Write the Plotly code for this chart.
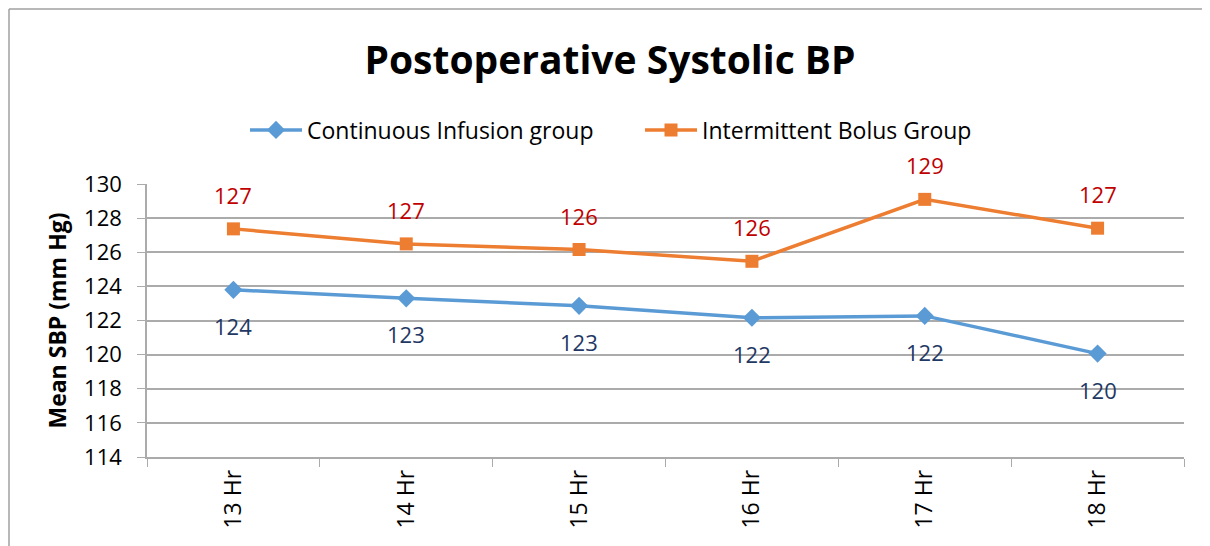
import plotly.graph_objects as go

categories = ["13 Hr", "14 Hr", "15 Hr", "16 Hr", "17 Hr", "18 Hr"]
continuous = [123.8, 123.3, 122.86, 122.16, 122.27, 120.06]
intermittent = [127.37, 126.49, 126.16, 125.47, 129.1, 127.41]
continuous_labels = ["124", "123", "123", "122", "122", "120"]
intermittent_labels = ["127", "127", "126", "126", "129", "127"]
y_ticks = [114, 116, 118, 120, 122, 124, 126, 128, 130]

FONT = "'Open Sans', Lato, sans-serif"
BLUE = "#5B9BD5"
ORANGE = "#ED7D31"
RED = "#C00000"
NAVY = "#1F3864"
GRID = "#ABABAB"

# page body has an 8px margin; compensate so plot area sits at x 147..1184, y 184..457
OFF = 8
fig = go.Figure()
fig.add_trace(go.Scatter(
    x=categories, y=continuous, name="Continuous Infusion group",
    mode="lines+markers",
    line=dict(color=BLUE, width=3.5),
    marker=dict(symbol="diamond", size=14, color=BLUE),
))
fig.add_trace(go.Scatter(
    x=categories, y=intermittent, name="Intermittent Bolus Group",
    mode="lines+markers",
    line=dict(color=ORANGE, width=3.5),
    marker=dict(symbol="square", size=13, color=ORANGE),
))

annotations = []
for c, v, t in zip(categories, intermittent, intermittent_labels):
    annotations.append(dict(x=c, y=v, text=t, showarrow=False, yshift=34,
                            font=dict(family=FONT, size=22, color=RED)))
for c, v, t in zip(categories, continuous, continuous_labels):
    annotations.append(dict(x=c, y=v, text=t, showarrow=False, yshift=-36,
                            font=dict(family=FONT, size=22, color=NAVY)))

PW, PH = 1037, 273
bx = (9 - 147) / PW
by = (457 - 9) / PH

fig.update_layout(
    width=1210, height=546,
    margin=dict(l=147 - OFF, r=1210 + OFF - 1184, t=184 - OFF, b=546 + OFF - 457, autoexpand=False),
    paper_bgcolor="white", plot_bgcolor="white",
    font=dict(family=FONT, size=21, color="black"),
    title=dict(text="<b>Postoperative Systolic BP</b>", x=(610 - OFF) / 1210, xanchor="center",
               y=1 - (60 - OFF) / 546, yanchor="middle",
               font=dict(family=FONT, size=39, color="black")),
    legend=dict(orientation="h", x=(245 - 147) / PW, xanchor="left", y=(457 - 130) / PH, yanchor="middle",
                font=dict(family=FONT, size=23, color="black"),
                itemwidth=52, entrywidth=328, entrywidthmode="pixels",
                bgcolor="rgba(0,0,0,0)"),
    showlegend=True,
    annotations=annotations,
    shapes=[
        dict(type="line", xref="paper", yref="paper", x0=bx, x1=(1230 - 147) / PW,
             y0=by, y1=by, line=dict(color="#A0A0A0", width=1.5)),
        dict(type="line", xref="paper", yref="paper", x0=bx, x1=bx,
             y0=by, y1=(457 - 570) / PH, line=dict(color="#A0A0A0", width=1.5)),
    ],
)

fig.update_xaxes(
    type="category", tickangle=-90, tickson="boundaries",
    ticks="outside", ticklen=8, tickcolor=GRID,
    showline=True, linecolor=GRID, linewidth=1.5,
    showgrid=False, tickfont=dict(family=FONT, size=23, color="black"),
    ticklabelstandoff=2,
    range=[-0.5, 5.5],
)
fig.update_yaxes(
    range=[114, 130], tickvals=y_ticks,
    ticks="outside", ticklen=8, tickcolor=GRID,
    showline=True, linecolor=GRID, linewidth=1.5,
    showgrid=True, gridcolor=GRID, gridwidth=1.5,
    zeroline=False, ticklabelstandoff=11,
    tickfont=dict(family=FONT, size=22, color="black"),
    title=dict(text="<b>Mean SBP (mm Hg)</b>", standoff=11,
               font=dict(family=FONT, size=23, color="black")),
)

fig.write_html("out.html")
